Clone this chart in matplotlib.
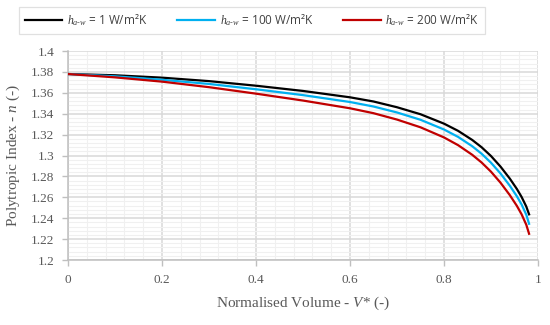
#!/usr/bin/env python3

import numpy as np
import matplotlib.pyplot as plt
from matplotlib.ticker import MultipleLocator

# normalised volume V* and polytropic index n for each heat transfer coefficient
volume = [0.0, 0.1, 0.2, 0.3, 0.4, 0.5, 0.6, 0.65, 0.7, 0.75, 0.8, 0.83,
          0.86, 0.88, 0.9, 0.92, 0.94, 0.955, 0.965, 0.975, 0.981]
n_h1 = [1.378, 1.3768, 1.3745, 1.3712, 1.3668, 1.3618, 1.3557, 1.3517,
        1.3462, 1.3395, 1.3305, 1.3236, 1.3149, 1.3079, 1.2995, 1.2895,
        1.2779, 1.268, 1.2604, 1.2512, 1.2437]
n_h100 = [1.378, 1.3758, 1.3725, 1.3685, 1.3634, 1.3578, 1.3512, 1.3469,
          1.3412, 1.3342, 1.3249, 1.3178, 1.3089, 1.3017, 1.2931, 1.2829,
          1.2711, 1.261, 1.2532, 1.2434, 1.2347]
n_h200 = [1.378, 1.3748, 1.3707, 1.3654, 1.3592, 1.3526, 1.3452, 1.3405,
          1.3344, 1.327, 1.3173, 1.3099, 1.3007, 1.2933, 1.2845, 1.2741,
          1.2621, 1.2518, 1.2438, 1.2338, 1.2251]
labels = [r"$h_{a\text{-}w}$ = 1 W/m²K", r"$h_{a\text{-}w}$ = 100 W/m²K",
          r"$h_{a\text{-}w}$ = 200 W/m²K"]
colors = ["#000000", "#00B0F0", "#C00000"]

plt.rcParams['mathtext.fontset'] = 'custom'
plt.rcParams['mathtext.it'] = 'Liberation Serif:italic'
plt.rcParams['mathtext.rm'] = 'Liberation Serif'

grey = "#595959"

fig = plt.figure(figsize=(5.5, 3.25), dpi=100)
ax = fig.add_axes([0.1236, 0.2, 0.8546, 0.643])

for ys, c, lab in zip([n_h1, n_h100, n_h200], colors, labels):
    ax.plot(volume, ys, color=c, lw=1.6, label=lab, zorder=3,
            solid_joinstyle='round')

ax.set_xlim(0, 1)
ax.set_ylim(1.2, 1.4)
ax.xaxis.set_minor_locator(MultipleLocator(0.04))
ax.yaxis.set_minor_locator(MultipleLocator(0.004))
ax.set_xticks(np.arange(0, 1.01, 0.2))
ax.set_yticks(np.arange(1.2, 1.401, 0.02))
ax.set_xticklabels(["0", "0.2", "0.4", "0.6", "0.8", "1"])
ax.set_yticklabels(["1.2", "1.22", "1.24", "1.26", "1.28", "1.3", "1.32",
                    "1.34", "1.36", "1.38", "1.4"])

ax.grid(which='major', color="#D9D9D9", lw=1.1)
ax.grid(which='minor', color="#F0F0F0", lw=0.8)
ax.set_axisbelow(True)

for s in ['top', 'right']:
    ax.spines[s].set_visible(False)
for s in ['left', 'bottom']:
    ax.spines[s].set_color("#BFBFBF")
    ax.spines[s].set_linewidth(1.1)

ax.tick_params(which='major', length=4, color="#BFBFBF", width=1.0,
               labelsize=9.5, labelcolor=grey, pad=6)
ax.tick_params(which='minor', length=0)
for t in ax.get_xticklabels() + ax.get_yticklabels():
    t.set_fontfamily('Liberation Serif')

ax.set_xlabel(r"Normalised Volume - $V$* (-)", fontsize=11, color=grey,
              family='Liberation Serif', labelpad=6)
ax.set_ylabel(r"Polytropic Index - $n$ (-)", fontsize=11, color=grey,
              family='Liberation Serif', labelpad=6)

leg = fig.legend(loc='center', bbox_to_anchor=(0.458, 0.937), ncol=3,
                 frameon=True, fancybox=False, edgecolor="#D9D9D9",
                 prop={'family': 'Open Sans', 'size': 8.5},
                 handlelength=3.2, columnspacing=2.5, handletextpad=0.4,
                 borderpad=0.5)
leg.get_frame().set_linewidth(0.9)
for t in leg.get_texts():
    t.set_color("#404040")

plt.savefig("out.png", dpi=100)
